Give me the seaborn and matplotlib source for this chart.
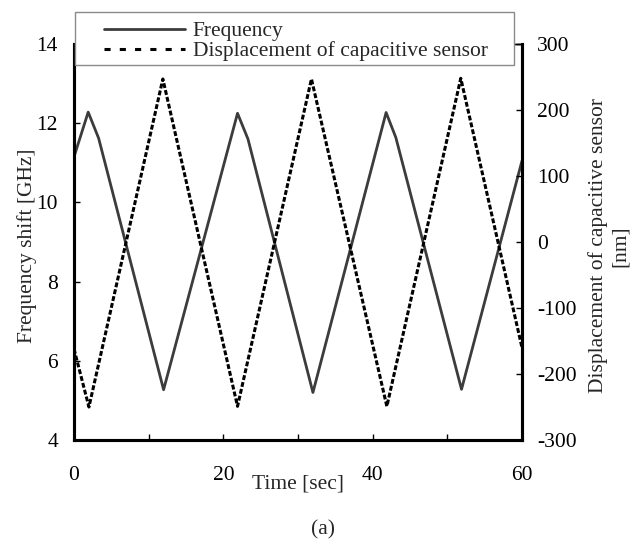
import numpy as np
import pandas as pd
import seaborn as sns
import matplotlib
matplotlib.use("Agg")
import matplotlib.pyplot as plt
from matplotlib.lines import Line2D
from matplotlib.patches import Rectangle

# ---- data ----
time_freq = [0, 1.9, 3.3, 12.0, 21.9, 23.3, 32.0, 41.8, 43.1, 51.9, 60]
freq_shift = [11.15, 12.28, 11.62, 5.27, 12.25, 11.6, 5.2, 12.27, 11.64, 5.28, 11.05]

time_disp = [0, 2.0, 11.9, 21.9, 31.8, 41.9, 51.8, 60]
displacement = [-162, -250, 247, -249, 247, -249, 248, -160]

x_ticks = [0, 10, 20, 30, 40, 50, 60]
x_ticklabels = ["0", "", "20", "", "40", "", "60"]
left_ticks = [4, 6, 8, 10, 12, 14]
right_ticks = [-300, -200, -100, 0, 100, 200, 300]

legend_labels = ["Frequency", "Displacement of capacitive sensor"]

df_f = pd.DataFrame({"t": time_freq, "v": freq_shift})
df_d = pd.DataFrame({"t": time_disp, "v": displacement})

sns.set_style("ticks")
plt.rcParams["font.family"] = ["Liberation Serif", "DejaVu Serif"]
plt.rcParams["axes.unicode_minus"] = False

W, H = 642, 544
fig = plt.figure(figsize=(W / 100, H / 100), dpi=100)
ax = fig.add_axes([74 / W, 1 - 440 / H, 448 / W, 396 / H])
ax2 = ax.twinx()

freq_color = "#3c3c3c"
sns.lineplot(data=df_f, x="t", y="v", ax=ax, color=freq_color, linewidth=2.0,
             estimator=None, sort=False)
sns.lineplot(data=df_d, x="t", y="v", ax=ax2, color="black", linewidth=2.2,
             estimator=None, sort=False)
ax2.lines[0].set_dashes((1.6, 0.7))

ax.set_xlim(0, 60)
ax.set_ylim(4, 14)
ax2.set_ylim(-300, 300)

ax.set_xticks(x_ticks)
ax.set_xticklabels(x_ticklabels)
ax.set_yticks(left_ticks)
ax2.set_yticks(right_ticks)

fs = 15.5
ax.tick_params(axis="x", direction="in", length=4, width=1, pad=19, labelsize=fs, colors="black")
ax.tick_params(axis="y", direction="in", length=4, width=1, pad=11.5, labelsize=fs, colors="black")
ax2.tick_params(axis="y", direction="in", length=4, width=1, pad=11, labelsize=fs, colors="black")

for a in (ax, ax2):
    for s in ("left", "right", "bottom"):
        a.spines[s].set_linewidth(2.2)
        a.spines[s].set_color("black")
    a.spines["top"].set_linewidth(1.0)
    a.spines["top"].set_color("black")

ax.set_xlabel("Time [sec]", fontsize=fs, va="center")
ax.xaxis.set_label_coords(0.5, -0.11)
ax.set_ylabel("Frequency shift [GHz]", fontsize=fs, va="center")
ax.yaxis.set_label_coords(-0.105, 0.49)
ax2.set_ylabel("Displacement of capacitive sensor\n[nm]", fontsize=fs, va="center",
               ha="center", multialignment="center", rotation=90)
ax2.yaxis.set_label_coords(1.195, 0.49)

# legend frame (overlapping the top of the plot, as in the reference)
rect = Rectangle((75 / W, 1 - 65 / H), 439 / W, 53 / H, transform=fig.transFigure,
                 facecolor="white", edgecolor="#8a8a8a", linewidth=1.0, zorder=5)
fig.patches.append(rect)

handles = [
    Line2D([], [], color=freq_color, linewidth=2.0),
    Line2D([], [], color="black", linewidth=2.2, dashes=(2.0, 3.0)),
]
leg = fig.legend(handles, legend_labels, loc="upper left",
                 bbox_to_anchor=(104 / W, 1 - 21 / H), frameon=False,
                 borderpad=0, borderaxespad=0, fontsize=fs, handlelength=3.75,
                 handletextpad=0.38, labelspacing=0.0)
leg.set_zorder(6)

fig.text(323 / W, 1 - 530 / H, "(a)", fontsize=fs, ha="center", va="center")

fig.savefig("out.png", dpi=100)
